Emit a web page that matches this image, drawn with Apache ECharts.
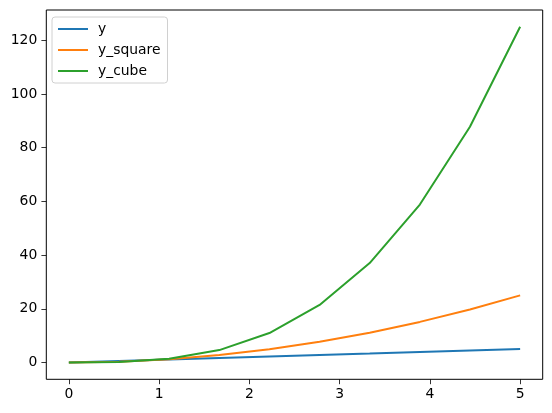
<!DOCTYPE html>
<html>
<head>
<meta charset="utf-8">
<script src="https://cdn.jsdelivr.net/npm/echarts@6/dist/echarts.min.js"></script>
<style>html,body{margin:0;padding:0;background:#fff}#c{width:552px;height:413px}</style>
</head>
<body>
<div id="c"></div>
<script>
const xValues = [0, 0.556, 1.111, 1.667, 2.222, 2.778, 3.333, 3.889, 4.444, 5];
const yLinear = [0, 0.56, 1.11, 1.67, 2.22, 2.78, 3.33, 3.89, 4.44, 5];
const ySquare = [0, 0.31, 1.23, 2.78, 4.94, 7.72, 11.11, 15.12, 19.75, 25];
const yCube = [0, 0.17, 1.37, 4.63, 10.97, 21.43, 37.04, 58.82, 87.79, 125];
const seriesNames = ['y', 'y_square', 'y_cube'];
const colors = ['#1f77b4', '#ff7f0e', '#2ca02c'];
const xTicks = [0, 1, 2, 3, 4, 5];
const yTicks = [0, 20, 40, 60, 80, 100, 120];

const font = 'DejaVu Sans';
const pair = ys => xValues.map((x, i) => [x, ys[i]]);
const chart = echarts.init(document.getElementById('c'), null, {renderer: 'canvas'});
const axisCommon = {
  splitLine: {show: false},
  axisLine: {show: false, onZero: false},
  axisTick: {show: true, inside: false, length: 4.9, lineStyle: {color: '#000', width: 0.8}},
  axisLabel: {color: '#000', fontFamily: font, fontSize: 13.9, margin: 9}
};
chart.setOption({
  animation: false,
  color: colors,
  grid: {left: 46.3, right: 9.3, top: 10, bottom: 33.7, show: true, borderColor: '#000', borderWidth: 1, backgroundColor: 'transparent'},
  xAxis: Object.assign({}, axisCommon, {
    type: 'value', min: -0.25, max: 5.25,
    axisTick: Object.assign({}, axisCommon.axisTick, {customValues: xTicks}),
    axisLabel: Object.assign({}, axisCommon.axisLabel, {customValues: xTicks, margin: 8})
  }),
  yAxis: Object.assign({}, axisCommon, {
    type: 'value', min: -6.25, max: 131.25,
    axisTick: Object.assign({}, axisCommon.axisTick, {customValues: yTicks}),
    axisLabel: Object.assign({}, axisCommon.axisLabel, {customValues: yTicks, margin: 9})
  }),
  legend: {
    orient: 'vertical', left: 52, top: 17,
    backgroundColor: 'rgba(255,255,255,0.8)', borderColor: '#d0d0d0', borderWidth: 1, borderRadius: 3,
    padding: [5, 7, 5, 6],
    itemWidth: 30, itemHeight: 2, itemGap: 7, icon: 'rect',
    textStyle: {fontFamily: font, fontSize: 13.9, color: '#000', padding: [0, 0, 0, 5], lineHeight: 14},
    data: seriesNames
  },
  series: [
    {name: seriesNames[0], type: 'line', data: pair(yLinear), showSymbol: false, symbol: 'none', lineStyle: {width: 2}},
    {name: seriesNames[1], type: 'line', data: pair(ySquare), showSymbol: false, symbol: 'none', lineStyle: {width: 2}},
    {name: seriesNames[2], type: 'line', data: pair(yCube), showSymbol: false, symbol: 'none', lineStyle: {width: 2}}
  ]
});
</script>
</body>
</html>
